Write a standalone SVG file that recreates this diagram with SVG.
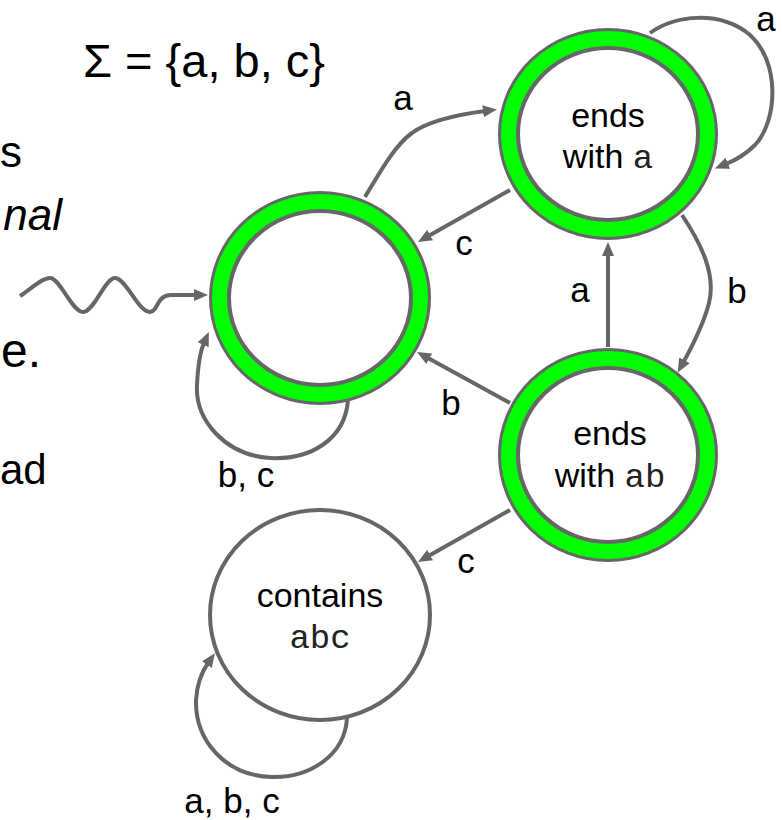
<svg xmlns="http://www.w3.org/2000/svg" width="782" height="820" viewBox="0 0 782 820">
<style>
.t{font-family:"Liberation Sans",Arial,sans-serif;fill:#000}
.m{font-family:"Liberation Mono","Courier New",monospace;fill:#222}
.lbl{font-size:35px;text-anchor:middle}
.big{font-size:44px}
.nl{font-size:34px;text-anchor:middle}
.g{fill:none;stroke:#666;stroke-width:4}
.ring{fill:none;stroke:#00ff00;stroke-width:16}
.inner{fill:#fff;stroke:#666;stroke-width:4}
.e{fill:none;stroke:#666;stroke-width:4;marker-end:url(#arr)}
</style>
<defs>
<marker id="arr" viewBox="0 0 14 12" refX="2" refY="6" markerWidth="14" markerHeight="12" markerUnits="userSpaceOnUse" orient="auto">
<path d="M0,0 L14,6 L0,12 z" fill="#666"/>
</marker>
</defs>
<rect width="782" height="820" fill="#fff"/>
<g id="side-text">
<text class="t" x="83" y="77" font-size="47">Σ = {a, b, c}</text>
<text class="t big" x="0" y="167">s</text>
<text class="t big" x="62" y="230" text-anchor="end" font-style="italic">nal</text>
<text class="t" x="1" y="367" font-size="48">e.</text>
<text class="t" x="0" y="484" font-size="42">ad</text>
</g>
<g id="connectors">
<path class="e" d="M20,296 C32,288 42,278 50,278 C60,278 72,312 83,312 C94,312 105,278 115,278 C126,278 138,312 150,312 C158,312 156,296 170,295 L196,295"/>
<path class="e" d="M365,197 C380,172 395,145 412,133 C428,121 455,115 485,111"/>
<path class="e" d="M510,190 L428.4,236.1"/>
<path class="e" d="M608,347 L608,254"/>
<path class="e" d="M682,215 C702,245 716,275 709,303 C704,322 694,343 683.5,362"/>
<path class="e" d="M510,403 L427.5,357.8"/>
<path class="e" d="M510,510 L428.4,556.1"/>
<path class="e" d="M650,33 C675,15 720,10 750,35 C780,62 778,120 755,145 C746,154 736,160 726,164"/>
<path class="e" d="M348,400 C345,440 310,460 270,458 C225,455 195,420 197,385 C198,365 200,352 204,343"/>
<path class="e" d="M347,718 C345,755 310,778 272,777 C225,776 195,740 196,700 C197,685 201,673 208,663"/>
</g>
<g id="edge-labels">
<text class="t lbl" x="403" y="110">a</text>
<text class="t lbl" x="464" y="255">c</text>
<text class="t lbl" x="580" y="302">a</text>
<text class="t lbl" x="737" y="303">b</text>
<text class="t lbl" x="451" y="415">b</text>
<text class="t lbl" x="466" y="573">c</text>
<text class="t lbl" x="766" y="31">a</text>
<text class="t lbl" x="246" y="487">b, c</text>
<text class="t lbl" x="232" y="813">a, b, c</text>
</g>
<g id="start">
<ellipse class="g" cx="320" cy="298" rx="109" ry="105"/>
<ellipse class="ring" cx="320" cy="298" rx="100" ry="96"/>
<ellipse class="inner" cx="320" cy="298" rx="91" ry="87"/>
</g>
<g id="ends-with-a">
<ellipse class="g" cx="608" cy="134" rx="108" ry="104"/>
<ellipse class="ring" cx="608" cy="134" rx="99" ry="95"/>
<ellipse class="inner" cx="608" cy="134" rx="90" ry="86"/>
<text class="t nl" x="608" y="127">ends</text>
<text class="t nl" x="608" y="168">with <tspan class="m">a</tspan></text>
</g>
<g id="ends-with-ab">
<ellipse class="g" cx="608" cy="455" rx="108" ry="105"/>
<ellipse class="ring" cx="608" cy="455" rx="99" ry="96"/>
<ellipse class="inner" cx="608" cy="455" rx="90" ry="87"/>
<text class="t nl" x="610" y="445">ends</text>
<text class="t nl" x="610" y="487">with <tspan class="m">ab</tspan></text>
</g>
<g id="contains-abc">
<ellipse cx="320" cy="615" rx="110" ry="105" fill="#fff" stroke="#666" stroke-width="4"/>
<text class="t nl" x="320" y="607">contains</text>
<text class="t nl m" x="320" y="648">abc</text>
</g>
</svg>
